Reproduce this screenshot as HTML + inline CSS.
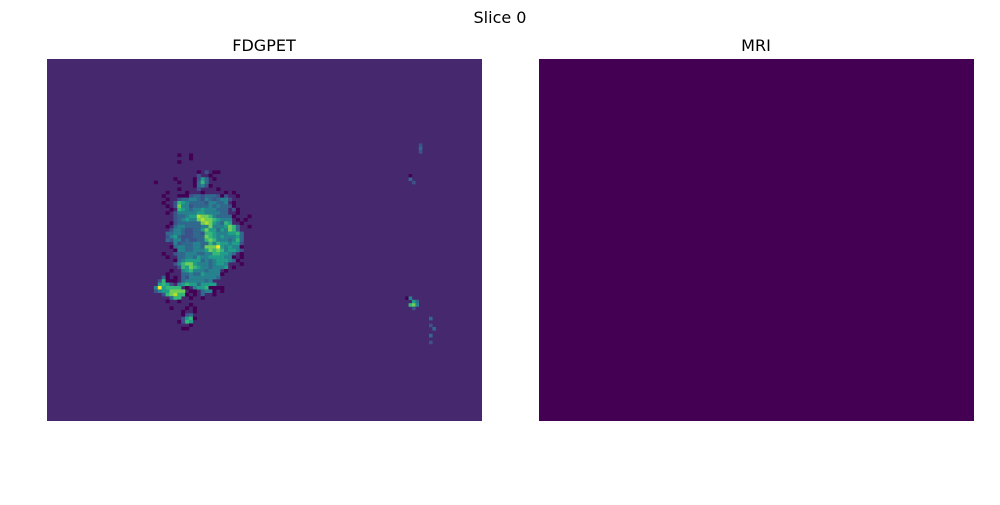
<!DOCTYPE html>
<html><head><meta charset="utf-8"><style>
body{margin:0;background:#fff;width:1000px;height:500px;overflow:hidden;font-family:"Liberation Sans","DejaVu Sans",sans-serif}
</style></head><body>
<svg width="1000" height="500">
<text x="500" y="23" text-anchor="middle" font-size="16" font-family="DejaVu Sans, sans-serif">Slice 0</text>
<text x="264" y="51" text-anchor="middle" font-size="16" font-family="DejaVu Sans, sans-serif">FDGPET</text>
<text x="756" y="51" text-anchor="middle" font-size="16" font-family="DejaVu Sans, sans-serif">MRI</text>
<rect x="47" y="59" width="435" height="362" fill="#46286f"/>
<g id="cells"></g>
<rect x="539" y="59" width="435" height="362" fill="#440154"/>
</svg>
<script>
const blobRows=[
"..............................",
".......0..0...................",
"..........0...................",
".......0......................",
"..............................",
"..............................",
"............0.2.00............",
"............2..0..............",
"......0....0253.0.............",
".0.....0...0363...............",
"...........03420..............",
".......0....2....0............",
"....0....0...0.....0.0........",
"...0...0002332333202..0.......",
"....0..23344324323442.........",
"...0..26543333244334.0........",
"....0.2744233334343320........",
".....0.6543445444333.20.......",
"....0.24444455444433..0.......",
"......2334558776433330...0....",
"......234544787765444.0.0.....",
".....0233333378754365..0......",
"....0.34433334474445763..0....",
".....244322335755354763.......",
"....33443223326654445563......",
"....24532223337654544453......",
"....32442322336764443463......",
"......423334433646554552......",
".....0344334437779545440......",
"......044334445767645542......",
"...0..2334443344665543.0......",
"....0..334435445555440.0......",
"......03455553434555430.......",
"......24677544434554...0......",
".......2657654434445.0........",
".....0..4564443444.0..........",
"....0...33433544440...........",
"...30.0.3244444443............",
"..26000.34444434..............",
"..5652.4565535555.............",
".4956666.0.45560000...........",
".24557777.00.3440.0...........",
"...2678660.0.3..0.............",
".....366..0..0................",
"....0..0......................",
"..........0...................",
".....0...0.0..................",
"........0..0..................",
"........023...................",
"........2560...................",
".......0265...................",
"..........0...................",
"........00...................."
];
const spotCols=[7,7,7,4,4,5,3,4,5,6,4,5,6,5,10,10,11,10,10];
const spotRows=[1,2,3,10,11,12,46,46,47,47,48,48,48,49,52,54,55,57,59];
const spotVals=[2,3,2,0,3,2,0,4,5,3,6,7,4,2,3,2,3,3,2];
const pal={'0':'#440154','2':'#3b528b','3':'#31688e','4':'#26828e','5':'#1f9e89','6':'#35b779','7':'#6ece58','8':'#b5de2b','9':'#fde725'};
const cell=3.4, blobCellX=3.9, ox=150, oy=150, sx=395, sy=140;
const g=document.getElementById('cells');
function put(x,y,w,v){
  const r=document.createElementNS('http://www.w3.org/2000/svg','rect');
  r.setAttribute('x',x);r.setAttribute('y',y);
  r.setAttribute('width',w+0.2);r.setAttribute('height',cell+0.2);
  r.setAttribute('fill',pal[v]);
  
  
  g.appendChild(r);
}
blobRows.forEach((row,i)=>{for(let j=0;j<row.length;j++){const c=row[j];if(c!=='.')put(ox+j*blobCellX,oy+i*cell,blobCellX,c);}});
for(let k=0;k<spotCols.length;k++)put(sx+spotCols[k]*cell,sy+spotRows[k]*cell,cell,String(spotVals[k]));
</script>
</body></html>
